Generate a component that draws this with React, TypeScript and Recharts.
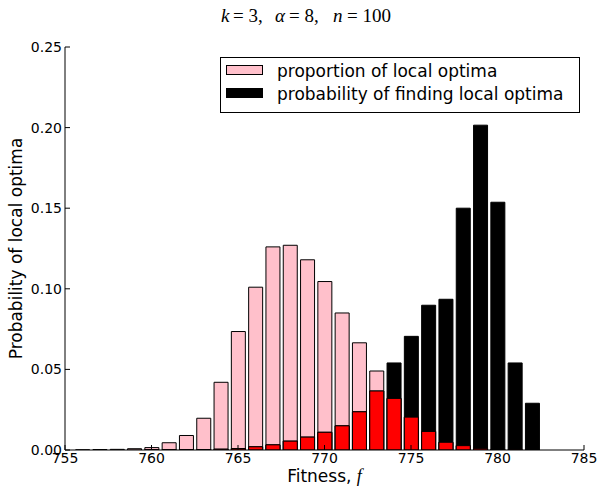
import { ComposedChart, Bar, XAxis, YAxis } from "recharts";

const fitness = [
  756, 757, 758, 759, 760, 761, 762, 763, 764, 765, 766, 767, 768, 769,
  770, 771, 772, 773, 774, 775, 776, 777, 778, 779, 780, 781, 782,
];
// proportion of local optima at each fitness
const proportion = [
  0.0001, 0.0003, 0.0004, 0.0008, 0.0015, 0.0045, 0.009, 0.0197, 0.042,
  0.0735, 0.101, 0.126, 0.127, 0.118, 0.1045, 0.085, 0.0665, 0.049, 0.032,
  0.0204, 0.0115, 0.0048, 0.0027, 0.001, 0.0003, 0.0001, 0,
];
// probability of finding local optima
const finding = [
  0, 0, 0, 0, 0.0001, 0.0001, 0.0002, 0.0003, 0.0005, 0.0009, 0.002, 0.0032,
  0.0055, 0.008, 0.011, 0.015, 0.0237, 0.0366, 0.054, 0.0705, 0.0898, 0.0935,
  0.15, 0.2015, 0.1537, 0.054, 0.029,
];
const xTicks = [755, 760, 765, 770, 775, 780, 785];
const yTicks = [0, 0.05, 0.1, 0.15, 0.2, 0.25];

const legendItems = [
  { label: "proportion of local optima", color: "pink" },
  { label: "probability of finding local optima", color: "#000000" },
];

const rows = fitness.map((f, i) => ({
  f,
  proportion: proportion[i],
  finding: finding[i],
  overlap: Math.min(proportion[i], finding[i]),
}));

const font = "'DejaVu Sans', sans-serif";
const serif = "'Liberation Serif', serif";

const BottomTick = (props: any) => {
  const { x, y, payload } = props;
  return (
    <g>
      <line x1={x} x2={x} y1={y} y2={y - 5} stroke="#000" />
      <text x={x} y={y + 13} textAnchor="middle" fontSize={14} fontFamily={font} fill="#000">
        {payload.value}
      </text>
    </g>
  );
};

const TopTick = (props: any) => {
  const { x, y } = props;
  return <line x1={x} x2={x} y1={y} y2={y + 5} stroke="#000" />;
};

const LeftTick = (props: any) => {
  const { x, y, payload } = props;
  return (
    <g>
      <line x1={x} x2={x + 5} y1={y} y2={y} stroke="#000" />
      <text x={x - 3} y={y + 5} textAnchor="end" fontSize={14} fontFamily={font} fill="#000">
        {payload.value.toFixed(2)}
      </text>
    </g>
  );
};

const RightTick = (props: any) => {
  const { x, y } = props;
  return <line x1={x} x2={x - 5} y1={y} y2={y} stroke="#000" />;
};

export default function App() {
  return (
    <div style={{ position: "absolute", left: 0, top: 0, width: 598, height: 487 }}>
      <ComposedChart
        width={598}
        height={487}
        data={rows}
        margin={{ top: 47, right: 14, left: 0, bottom: 0 }}
      >
        <XAxis
          xAxisId="bottom"
          dataKey="f"
          type="number"
          domain={[755, 785]}
          ticks={xTicks}
          allowDataOverflow
          height={37}
          tickSize={0}
          tickMargin={0}
          tick={<BottomTick />}
          axisLine={{ stroke: "#000" }}
          label={() => (
            <text
              x={324.5}
              y={482}
              textAnchor="middle"
              fontSize={17}
              fontFamily={font}
              fill="#000"
            >
              Fitness,{" "}
              <tspan fontFamily={serif} fontStyle="italic" fontSize={18}>
                f
              </tspan>
            </text>
          )}
        />
        <XAxis
          xAxisId="top"
          orientation="top"
          dataKey="f"
          type="number"
          domain={[755, 785]}
          ticks={xTicks}
          allowDataOverflow
          height={0}
          tickSize={0}
          tickMargin={0}
          tick={<TopTick />}
          axisLine={{ stroke: "#000" }}
        />
        <XAxis
          xAxisId="hidden"
          dataKey="f"
          type="number"
          domain={[755, 785]}
          allowDataOverflow
          hide
        />
        <YAxis
          yAxisId="left"
          type="number"
          domain={[0, 0.25]}
          ticks={yTicks}
          allowDataOverflow
          width={65}
          tickSize={0}
          tickMargin={0}
          tick={<LeftTick />}
          axisLine={{ stroke: "#000" }}
          label={() => (
            <text
              x={22}
              y={248.5}
              transform="rotate(-90 22 248.5)"
              textAnchor="middle"
              fontSize={17}
              fontFamily={font}
              fill="#000"
            >
              Probability of local optima
            </text>
          )}
        />
        <YAxis
          yAxisId="right"
          orientation="right"
          type="number"
          domain={[0, 0.25]}
          ticks={yTicks}
          allowDataOverflow
          width={0}
          tickSize={0}
          tickMargin={0}
          tick={<RightTick />}
          axisLine={{ stroke: "#000" }}
        />
        <Bar
          xAxisId="bottom"
          yAxisId="left"
          dataKey="proportion"
          fill="pink"
          stroke="#000"
          strokeWidth={1}
          barSize={14}
          isAnimationActive={false}
        />
        <Bar
          xAxisId="top"
          yAxisId="left"
          dataKey="finding"
          fill="#000000"
          stroke="#000"
          strokeWidth={1}
          barSize={14}
          isAnimationActive={false}
        />
        <Bar
          xAxisId="hidden"
          yAxisId="right"
          dataKey="overlap"
          fill="#ff0000"
          stroke="#000"
          strokeWidth={1}
          barSize={14}
          isAnimationActive={false}
        />
      </ComposedChart>
      <svg
        width={598}
        height={487}
        style={{ position: "absolute", left: 0, top: 0, pointerEvents: "none" }}
      >
        <text y={22} fontSize={19} fontFamily={serif} fill="#000">
          <tspan x={221} fontStyle="italic">k</tspan>
          <tspan x={233}>= 3,</tspan>
          <tspan x={275} fontStyle="italic">α</tspan>
          <tspan x={289}>= 8,</tspan>
          <tspan x={333} fontStyle="italic">n</tspan>
          <tspan x={347}>= 100</tspan>
        </text>
        <rect x={220.5} y={57.5} width={359} height={55} fill="#fff" stroke="#000" />
        {legendItems.map((item, i) => (
          <g key={item.label}>
            <rect
              x={226.5}
              y={65.5 + i * 23}
              width={36}
              height={9}
              fill={item.color}
              stroke="#000"
            />
            <text x={277} y={77 + i * 23} fontSize={17} fontFamily={font} fill="#000">
              {item.label}
            </text>
          </g>
        ))}
      </svg>
    </div>
  );
}
